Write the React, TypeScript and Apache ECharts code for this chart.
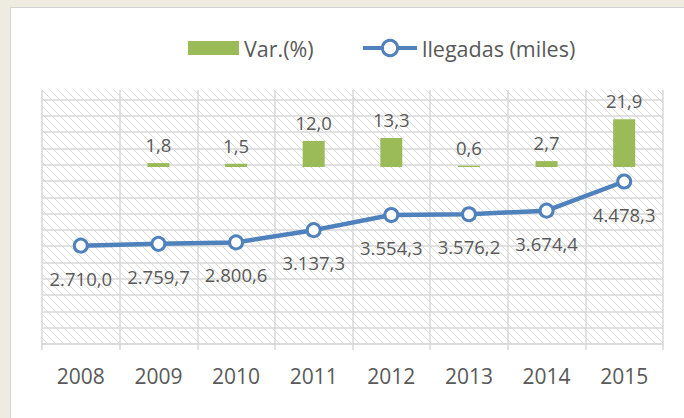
import React, { useEffect, useRef } from "react";
import * as echarts from "echarts";

const years = ["2008", "2009", "2010", "2011", "2012", "2013", "2014", "2015"];
const varPct: (number | string)[] = ["-", 1.8, 1.5, 12.0, 13.3, 0.6, 2.7, 21.9];
const llegadas = [2710.0, 2759.7, 2800.6, 3137.3, 3554.3, 3576.2, 3674.4, 4478.3];

const fmt = (v: number) => {
  const s = v.toFixed(1);
  const [ip, dp] = s.split(".");
  const withDots = ip.replace(/\B(?=(\d{3})+(?!\d))/g, ".");
  return withDots + "," + dp;
};

function makeHatch() {
  const c = document.createElement("canvas");
  c.width = 8;
  c.height = 8;
  const ctx = c.getContext("2d")!;
  ctx.fillStyle = "#ffffff";
  ctx.fillRect(0, 0, 8, 8);
  ctx.fillStyle = "#d9d9d9";
  for (let i = 0; i < 8; i++) ctx.fillRect(i, i, 1, 1);
  return c;
}

export default function App() {
  const ref = useRef<HTMLDivElement>(null);
  useEffect(() => {
    if (!ref.current) return;
    const chart = echarts.init(ref.current, undefined, { renderer: "svg" });
    const hatch = makeHatch();
    const font = "'Open Sans', sans-serif";
    const legendText = { color: "#595959", fontSize: 21.5, fontFamily: font };
    chart.setOption({
      animation: false,
      backgroundColor: "#EEECE1",
      graphic: [
        { type: "rect", z: -10, shape: { x: 10, y: 7, width: 700, height: 440 }, style: { fill: "#d4d4d4" } },
        { type: "rect", z: -9, shape: { x: 11, y: 8, width: 700, height: 440 }, style: { fill: "#ffffff" } },
      ],
      legend: [
        {
          left: 183,
          top: 32,
          itemWidth: 51,
          itemHeight: 14,
          textStyle: legendText,
          data: [{ name: "Var.(%)", icon: "rect" }],
        },
        {
          left: 356,
          top: 32,
          itemWidth: 54,
          itemHeight: 19,
          textStyle: legendText,
          data: [
            {
              name: "llegadas (miles)",
              lineStyle: { width: 4, color: "#4F81BD" },
              itemStyle: { color: "#ffffff", borderColor: "#4F81BD", borderWidth: 3 },
            },
          ],
        },
      ],
      grid: {
        left: 42,
        right: 21,
        top: 90,
        bottom: 74,
        show: true,
        borderWidth: 0,
        backgroundColor: { image: hatch, repeat: "repeat", imageWidth: 8, imageHeight: 8 },
      },
      xAxis: {
        type: "category",
        data: years,
        boundaryGap: true,
        axisLine: { lineStyle: { color: "#d9d9d9", width: 1.5 } },
        axisTick: { show: true, length: 6, lineStyle: { color: "#d9d9d9", width: 1.5 } },
        axisLabel: { color: "#595959", fontSize: 21, fontFamily: font, margin: 21 },
        splitLine: { show: true, interval: 0, lineStyle: { color: "#d9d9d9", width: 1.5 } },
      },
      yAxis: [
        { type: "value", min: 0, max: 7000, show: false, splitLine: { show: false } },
        { type: "value", min: -81.27, max: 35.35, show: false, splitLine: { show: false } },
        {
          type: "value",
          min: 0,
          max: 15.58,
          interval: 1,
          position: "right",
          axisLine: { show: false },
          axisTick: { show: false },
          axisLabel: { show: false },
          splitLine: { show: true, showMaxLine: false, lineStyle: { color: "#d9d9d9", width: 1.5 } },
        },
      ],
      series: [
        {
          name: "Var.(%)",
          type: "bar",
          yAxisIndex: 1,
          data: varPct,
          barWidth: 22,
          itemStyle: { color: "#9BBB59" },
          label: {
            show: true,
            position: "top",
            distance: 9,
            color: "#595959",
            fontSize: 18.5,
            fontFamily: font,
            formatter: (p: any) => fmt(p.value),
          },
        },
        {
          name: "llegadas (miles)",
          type: "line",
          yAxisIndex: 0,
          data: llegadas,
          z: 5,
          color: "#4F81BD",
          symbol: "circle",
          symbolSize: 13,
          lineStyle: { color: "#4F81BD", width: 4.5 },
          itemStyle: { color: "#ffffff", borderColor: "#4F81BD", borderWidth: 3 },
          label: {
            show: true,
            position: "bottom",
            distance: 15,
            color: "#595959",
            fontSize: 18.5,
            fontFamily: font,
            formatter: (p: any) => fmt(p.value),
          },
        },
      ],
    });
    return () => chart.dispose();
  }, []);
  return (
    <div
      ref={ref}
      style={{ position: "fixed", left: 0, top: 0, width: 684, height: 418 }}
    />
  );
}
